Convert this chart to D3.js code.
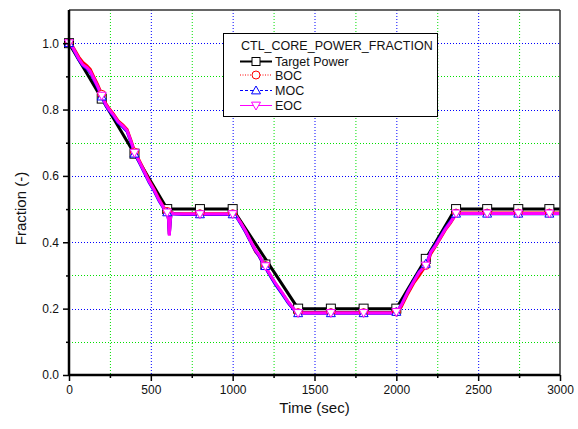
<!DOCTYPE html>
<html><head><meta charset="utf-8">
<script src="https://cdn.jsdelivr.net/npm/d3@7"></script>
<style>body{margin:0;background:#fff}svg{display:block;font-family:"Liberation Sans",Arial,sans-serif}</style>
</head><body><svg id="c" width="578" height="429"></svg>
<script>
// ---- data ----
const xTicks = [0,500,1000,1500,2000,2500,3000];
const yTicks = [0.0,0.2,0.4,0.6,0.8,1.0];
const seriesNames = ["Target Power","BOC","MOC","EOC"];
const legendTitle = "CTL_CORE_POWER_FRACTION";

const targetTime = [0,600,1000,1400,2000,2360,3000];
const targetVal  = [1.0,0.5,0.5,0.2,0.2,0.5,0.5];

const eocTime = [0,20,60,85,110,130,150,175,200,225,245,270,300,330,355,380,400,430,460,490,520,550,580,600,608,613,618,624,640,700,1000,1020,1050,1080,1110,1125,1140,1160,1190,1220,1260,1300,1340,1380,1400,2000,2030,2070,2110,2140,2160,2190,2210,2240,2270,2300,2330,2355,2375,2400,3000];
const eocVal  = [1.0,0.99,0.953,0.935,0.926,0.915,0.895,0.87,0.842,0.815,0.8,0.785,0.763,0.75,0.737,0.702,0.672,0.643,0.613,0.583,0.558,0.528,0.503,0.493,0.47,0.42,0.46,0.49,0.486,0.485,0.485,0.48,0.458,0.433,0.404,0.39,0.376,0.363,0.335,0.31,0.278,0.25,0.22,0.195,0.187,0.187,0.21,0.25,0.285,0.31,0.32,0.34,0.37,0.39,0.415,0.44,0.46,0.478,0.486,0.487,0.487];
const bocVal  = [1.0,0.992,0.958,0.942,0.932,0.921,0.9,0.875,0.846,0.818,0.803,0.788,0.766,0.753,0.74,0.705,0.675,0.646,0.616,0.586,0.56,0.53,0.505,0.495,0.472,0.425,0.462,0.49,0.487,0.486,0.486,0.481,0.458,0.431,0.402,0.387,0.372,0.36,0.333,0.308,0.276,0.248,0.219,0.194,0.188,0.188,0.205,0.245,0.28,0.3,0.315,0.335,0.365,0.388,0.413,0.438,0.458,0.477,0.486,0.488,0.488];
const mocVal  = [1.0,0.988,0.95,0.932,0.923,0.912,0.892,0.867,0.839,0.812,0.797,0.782,0.76,0.747,0.734,0.699,0.669,0.64,0.61,0.58,0.555,0.525,0.501,0.492,0.468,0.422,0.458,0.489,0.485,0.484,0.484,0.479,0.455,0.43,0.401,0.387,0.374,0.36,0.332,0.307,0.274,0.246,0.217,0.193,0.186,0.186,0.212,0.252,0.288,0.312,0.322,0.343,0.372,0.393,0.418,0.443,0.463,0.48,0.486,0.486,0.486];

const markerTime = [0,200,400,600,800,1000,1200,1400,1600,1800,2000,2180,2365,2555,2745,2935];
const targetMarkVal = [1.0,0.833,0.667,0.5,0.5,0.5,0.333,0.2,0.2,0.2,0.2,0.35,0.5,0.5,0.5,0.5];
const bocMarkVal = [1.0,0.846,0.672,0.493,0.486,0.486,0.33,0.188,0.188,0.188,0.19,0.33,0.488,0.488,0.488,0.488];
const mocMarkVal = [1.0,0.839,0.667,0.49,0.484,0.484,0.328,0.186,0.186,0.186,0.19,0.335,0.486,0.486,0.486,0.486];
const eocMarkVal = [1.0,0.842,0.67,0.49,0.485,0.485,0.328,0.187,0.187,0.187,0.19,0.33,0.487,0.487,0.487,0.487];

// ---- chart ----
const svg = d3.select("#c");
const L=69, R=560, T=10, B=375;
const x = d3.scaleLinear().domain([0,3000]).range([L,R]);
const y = d3.scaleLinear().domain([0,1.1]).range([B,T]);

// grid
const gGrid = svg.append("g");
const xMinor = d3.range(250,3000,500);
const yMinor = [0.1,0.3,0.5,0.7,0.9];
gGrid.selectAll(".gxm").data(xMinor).enter().append("line")
  .attr("x1",d=>x(d)+0.5).attr("x2",d=>x(d)+0.5).attr("y1",T).attr("y2",B)
  .attr("stroke","#00e000").attr("stroke-dasharray","1,2");
gGrid.selectAll(".gxM").data(xTicks.filter(d=>d>0&&d<3000)).enter().append("line")
  .attr("x1",d=>x(d)+0.5).attr("x2",d=>x(d)+0.5).attr("y1",T).attr("y2",B)
  .attr("stroke","#0000ff").attr("stroke-dasharray","1,2");
gGrid.selectAll(".gym").data(yMinor).enter().append("line")
  .attr("y1",d=>Math.round(y(d))+0.5).attr("y2",d=>Math.round(y(d))+0.5).attr("x1",L).attr("x2",R)
  .attr("stroke","#00e000").attr("stroke-dasharray","1,2");
gGrid.selectAll(".gyM").data(yTicks.filter(d=>d>0)).enter().append("line")
  .attr("y1",d=>Math.round(y(d))+0.5).attr("y2",d=>Math.round(y(d))+0.5).attr("x1",L).attr("x2",R)
  .attr("stroke","#0000ff").attr("stroke-dasharray","1,2");

// lines
const line = d3.line().x(d=>x(d[0])).y(d=>y(d[1]));
const zip = (a,b)=>a.map((t,i)=>[t,b[i]]);
const gD = svg.append("g");
gD.append("path").attr("d",line(zip(targetTime,targetVal))).attr("fill","none").attr("stroke","#000").attr("stroke-width",3);
gD.selectAll(".sq").data(zip(markerTime,targetMarkVal)).enter().append("rect")
  .attr("x",d=>x(d[0])-4.5).attr("y",d=>y(d[1])-4.5).attr("width",9).attr("height",9)
  .attr("fill","#fff").attr("stroke","#000").attr("stroke-width",1);

gD.append("path").attr("d",line(zip(eocTime,bocVal))).attr("fill","none").attr("stroke","#ff0000").attr("stroke-width",3);
gD.append("path").attr("d",line(zip(eocTime,mocVal))).attr("fill","none").attr("stroke","#0000ff").attr("stroke-width",3);
gD.append("path").attr("d",line(zip(eocTime,eocVal))).attr("fill","none").attr("stroke","#ff00ff").attr("stroke-width",3);

function triUp(cx,cy,s){return `M${cx},${cy-s}L${cx+s},${cy+s*0.75}L${cx-s},${cy+s*0.75}Z`;}
function triDn(cx,cy,s){return `M${cx},${cy+s}L${cx+s},${cy-s*0.75}L${cx-s},${cy-s*0.75}Z`;}
gD.selectAll(".ci").data(zip(markerTime,bocMarkVal)).enter().append("circle")
  .attr("cx",d=>x(d[0])).attr("cy",d=>y(d[1])).attr("r",4).attr("fill","#fff").attr("stroke","#ff0000");
gD.selectAll(".tu").data(zip(markerTime,mocMarkVal)).enter().append("path")
  .attr("d",d=>triUp(x(d[0]),y(d[1]),4.5)).attr("fill","#fff").attr("stroke","#0000ff");
gD.selectAll(".td").data(zip(markerTime,eocMarkVal)).enter().append("path")
  .attr("d",d=>triDn(x(d[0]),y(d[1]),4.5)).attr("fill","#fff").attr("stroke","#ff00ff");

// frame
svg.append("line").attr("x1",L).attr("x2",R).attr("y1",T).attr("y2",T).attr("stroke","#333").attr("stroke-width",1.5);
svg.append("line").attr("x1",R).attr("x2",R).attr("y1",T).attr("y2",B).attr("stroke","#333").attr("stroke-width",1.5);

// axes
const fmt = d3.format(".1f");
const xAx = svg.append("g").attr("transform",`translate(0,${B})`)
  .call(d3.axisBottom(x).tickValues(xTicks).tickSize(6).tickPadding(4).tickFormat(d3.format("d")));
const xAxm = svg.append("g").attr("transform",`translate(0,${B})`)
  .call(d3.axisBottom(x).tickValues(xMinor).tickSize(3).tickFormat(""));
const yAx = svg.append("g").attr("transform",`translate(${L},0)`)
  .call(d3.axisLeft(y).tickValues(yTicks).tickSize(6).tickPadding(4).tickFormat(fmt));
const yAxm = svg.append("g").attr("transform",`translate(${L},0)`)
  .call(d3.axisLeft(y).tickValues(yMinor).tickSize(3).tickFormat(""));
[xAx,yAx,xAxm,yAxm].forEach(g=>{
  g.select(".domain").remove();
  g.selectAll(".tick line").attr("stroke","#000").attr("stroke-width",1.5);
  g.selectAll("text").attr("font-size",12).attr("fill","#111").attr("font-family","Liberation Sans, Arial, sans-serif");
});
svg.append("line").attr("x1",L).attr("x2",R).attr("y1",B).attr("y2",B).attr("stroke","#000").attr("stroke-width",2.5);
svg.append("line").attr("x1",L).attr("x2",L).attr("y1",T).attr("y2",B+1).attr("stroke","#000").attr("stroke-width",2.5);

// axis titles
svg.append("text").attr("x",(L+R)/2).attr("y",413).attr("text-anchor","middle").attr("font-size",15).attr("fill","#111").text("Time (sec)");
svg.append("text").attr("transform",`translate(26,${(T+B)/2+16}) rotate(-90)`).attr("text-anchor","middle").attr("font-size",15).attr("fill","#111").text("Fraction (-)");

// legend
const lg = svg.append("g");
lg.append("rect").attr("x",223.5).attr("y",33.5).attr("width",214).attr("height",83).attr("fill","#fff").attr("stroke","#000").attr("stroke-width",1);
lg.append("text").attr("x",241).attr("y",50).attr("font-size",12.5).attr("fill","#111").text(legendTitle);
const legY = [61.5,75,90.5,105.5];
const legCol = ["#000","#ff0000","#0000ff","#ff00ff"];
const legDash = [null,"1,1.5","3,2",null];
const legW = [2,1,1,1];
seriesNames.forEach((n,i)=>{
  const yy = legY[i];
  lg.append("line").attr("x1",240).attr("x2",272).attr("y1",yy).attr("y2",yy).attr("stroke",legCol[i]).attr("stroke-width",legW[i]).attr("stroke-dasharray",legDash[i]);
  const cx=256;
  if(i===0) lg.append("rect").attr("x",cx-4).attr("y",yy-4).attr("width",8).attr("height",8).attr("fill","#fff").attr("stroke","#000");
  if(i===1) lg.append("circle").attr("cx",cx).attr("cy",yy).attr("r",4).attr("fill","#fff").attr("stroke","#ff0000");
  if(i===2) lg.append("path").attr("d",triUp(cx,yy,4.5)).attr("fill","#fff").attr("stroke","#0000ff");
  if(i===3) lg.append("path").attr("d",triDn(cx,yy,4.5)).attr("fill","#fff").attr("stroke","#ff00ff");
  lg.append("text").attr("x",275).attr("y",yy+4.5).attr("font-size",12.5).attr("fill","#111").text(n);
});
</script></body></html>
